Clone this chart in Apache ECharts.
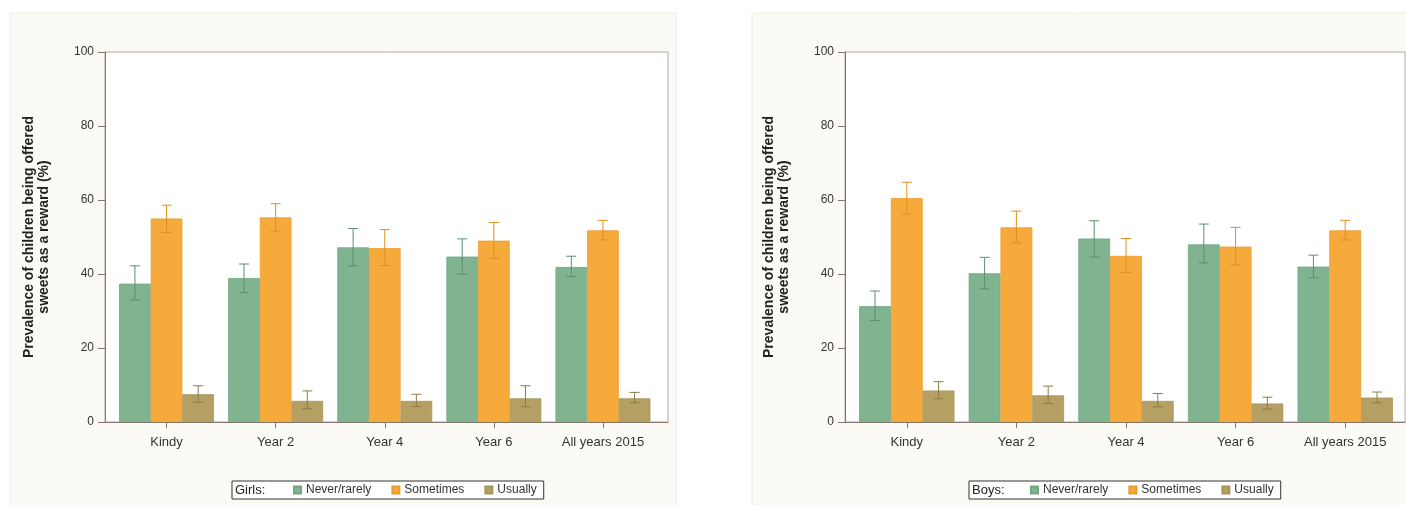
<!DOCTYPE html>
<html>
<head>
<meta charset="utf-8">
<script src="https://cdn.jsdelivr.net/npm/echarts@6/dist/echarts.min.js"></script>
<style>
html,body{margin:0;padding:0;background:#ffffff;}
#chart{width:1406px;height:505px;}
</style>
</head>
<body>
<div id="chart"></div>
<script>
// ---------- data ----------
const categories = ['Kindy', 'Year 2', 'Year 4', 'Year 6', 'All years 2015'];
const seriesNames = ['Never/rarely', 'Sometimes', 'Usually'];
const yMin = 0, yMax = 100, yStep = 20;

// Girls
const girlsNever    = [37.4, 38.9, 47.2, 44.7, 41.9];
const girlsNeverLo  = [33.0, 35.0, 42.2, 40.0, 39.3];
const girlsNeverHi  = [42.2, 42.7, 52.3, 49.5, 44.8];
const girlsSome     = [55.0, 55.3, 47.0, 49.0, 51.8];
const girlsSomeLo   = [51.2, 51.6, 42.3, 44.2, 49.2];
const girlsSomeHi   = [58.6, 59.0, 52.0, 53.9, 54.5];
const girlsUsual    = [7.5, 5.7, 5.7, 6.4, 6.4];
const girlsUsualLo  = [5.4, 3.6, 4.2, 4.1, 5.2];
const girlsUsualHi  = [9.8, 8.4, 7.5, 9.8, 8.0];

// Boys
const boysNever     = [31.3, 40.2, 49.6, 48.0, 42.0];
const boysNeverLo   = [27.4, 36.0, 44.6, 43.0, 39.0];
const boysNeverHi   = [35.4, 44.5, 54.4, 53.5, 45.1];
const boysSome      = [60.5, 52.6, 44.9, 47.4, 51.8];
const boysSomeLo    = [56.2, 48.4, 40.4, 42.5, 49.2];
const boysSomeHi    = [64.8, 57.0, 49.6, 52.6, 54.5];
const boysUsual     = [8.5, 7.2, 5.7, 5.0, 6.6];
const boysUsualLo   = [6.3, 5.0, 4.1, 3.5, 5.2];
const boysUsualHi   = [10.9, 9.7, 7.7, 6.7, 8.1];

const yTitle = 'Prevalence of children being offered\nsweets as a reward (%)';
const legendTitles = ['Girls:', 'Boys:'];

// ---------- styles ----------
const barColors = ['#80b38f', '#f6aa3c', '#b4a063'];
const barBorders = ['#74a683', '#eb9c2a', '#a8945a'];
const errColors = ['#5f8e6c', '#e0901c', '#8f7c46'];
const gapFrac = 0.13;
const FONT = "'Liberation Sans Narrow', 'Liberation Sans', Arial, sans-serif";
const FONT_W = "'Liberation Sans', Arial, sans-serif";

function errRender(offsetIdx, color) {
  return function (params, api) {
    const i = api.value(0);
    const lo = api.coord([i, api.value(1)]);
    const hi = api.coord([i, api.value(2)]);
    const band = api.size([1, 0])[0];
    const bw = band * (1 - gapFrac) / 3;
    const x = lo[0] + (offsetIdx - 1) * bw;
    const cap = 5;
    const st = { stroke: color, lineWidth: 1 };
    return {
      type: 'group',
      children: [
        { type: 'line', shape: { x1: x, y1: hi[1], x2: x, y2: lo[1] }, style: st },
        { type: 'line', shape: { x1: x - cap, y1: hi[1], x2: x + cap, y2: hi[1] }, style: st },
        { type: 'line', shape: { x1: x - cap, y1: lo[1], x2: x + cap, y2: lo[1] }, style: st }
      ]
    };
  };
}

const panels = [
  { frameLeft: 105, frameWidth: 563, barsLeft: 112, barsWidth: 545.5, legendLeft: 232,
    vals: [girlsNever, girlsSome, girlsUsual],
    lo: [girlsNeverLo, girlsSomeLo, girlsUsualLo],
    hi: [girlsNeverHi, girlsSomeHi, girlsUsualHi] },
  { frameLeft: 845, frameWidth: 560, barsLeft: 852, barsWidth: 548, legendLeft: 969,
    vals: [boysNever, boysSome, boysUsual],
    lo: [boysNeverLo, boysSomeLo, boysUsualLo],
    hi: [boysNeverHi, boysSomeHi, boysUsualHi] }
];

const TOP = 52, HEIGHT = 370;
const grid = [], xAxis = [], yAxis = [], series = [], legend = [];
const axisCol = '#85776f';

panels.forEach(function (p, k) {
  const gFrame = grid.length;
  grid.push({ left: p.frameLeft, top: TOP, width: p.frameWidth, height: HEIGHT,
              show: true, backgroundColor: '#ffffff', borderColor: '#b3a7a2', borderWidth: 1 });
  const gBars = grid.length;
  grid.push({ left: p.barsLeft, top: TOP, width: p.barsWidth, height: HEIGHT });

  // frame axes
  xAxis.push({ gridIndex: gFrame, type: 'value', min: 0, max: 1,
    axisLine: { show: true, lineStyle: { color: axisCol, width: 1 } },
    axisTick: { show: false }, axisLabel: { show: false }, splitLine: { show: false } });
  yAxis.push({ gridIndex: gFrame, type: 'value', min: yMin, max: yMax, interval: yStep,
    axisLine: { show: true, lineStyle: { color: axisCol, width: 1 } },
    axisTick: { show: true, length: 7, lineStyle: { color: axisCol } },
    axisLabel: { color: '#333', fontSize: 12, fontFamily: FONT, margin: 11 },
    splitLine: { show: false },
    name: yTitle, nameLocation: 'middle', nameRotate: 90, nameGap: 53,
    nameTextStyle: { fontFamily: FONT_W, fontWeight: 'bold', fontSize: 14, lineHeight: 15, color: '#222' } });

  // bar axes
  const xi = xAxis.length;
  xAxis.push({ gridIndex: gBars, type: 'category', data: categories,
    axisLine: { show: false },
    axisTick: { show: true, alignWithLabel: true, length: 6, lineStyle: { color: axisCol } },
    axisLabel: { color: '#333', fontSize: 13, fontFamily: FONT, margin: 14 },
    splitLine: { show: false } });
  const yi = yAxis.length;
  yAxis.push({ gridIndex: gBars, type: 'value', min: yMin, max: yMax, interval: yStep, show: false });

  for (let s = 0; s < 3; s++) {
    series.push({
      name: seriesNames[s], type: 'bar', xAxisIndex: xi, yAxisIndex: yi,
      data: p.vals[s], barGap: '0%', barCategoryGap: (gapFrac * 100) + '%',
      itemStyle: { color: barColors[s], borderColor: barBorders[s], borderWidth: 0.8 },
      emphasis: { disabled: true }, animation: false
    });
  }
  for (let s = 0; s < 3; s++) {
    series.push({
      name: 'ci' + k + s, type: 'custom', xAxisIndex: xi, yAxisIndex: yi,
      renderItem: errRender(s, errColors[s]),
      encode: { x: 0, y: [1, 2] },
      data: categories.map(function (c, i) { return [i, p.lo[s][i], p.hi[s][i]]; }),
      z: 5, animation: false, silent: true
    });
  }

  legend.push({
    data: seriesNames, left: p.legendLeft, top: 481,
    orient: 'horizontal', icon: 'rect', itemWidth: 7, itemHeight: 7, itemGap: 20,
    padding: [3, 7, 3, 61], borderColor: '#333', borderWidth: 1, backgroundColor: '#ffffff',
    textStyle: { fontFamily: FONT, fontSize: 12, color: '#333' },
    selectedMode: false
  });
});

const option = {
  backgroundColor: '#ffffff',
  animation: false,
  graphic: [
    { type: 'rect', z: -10, shape: { x: 10, y: 13, width: 666, height: 495 },
      style: { fill: '#fbfaf4', stroke: '#efece2', lineWidth: 1 } },
    { type: 'rect', z: -10, shape: { x: 752, y: 13, width: 660, height: 495 },
      style: { fill: '#fbfaf4', stroke: '#efece2', lineWidth: 1 } },
    { type: 'text', z: 50, left: 235, top: 484,
      style: { text: legendTitles[0], fontFamily: FONT, fontSize: 13, fill: '#222' } },
    { type: 'text', z: 50, left: 972, top: 484,
      style: { text: legendTitles[1], fontFamily: FONT, fontSize: 13, fill: '#222' } }
  ],
  grid: grid, xAxis: xAxis, yAxis: yAxis, series: series, legend: legend
};

const chart = echarts.init(document.getElementById('chart'), null, { renderer: 'canvas' });
chart.setOption(option);
</script>
</body>
</html>
